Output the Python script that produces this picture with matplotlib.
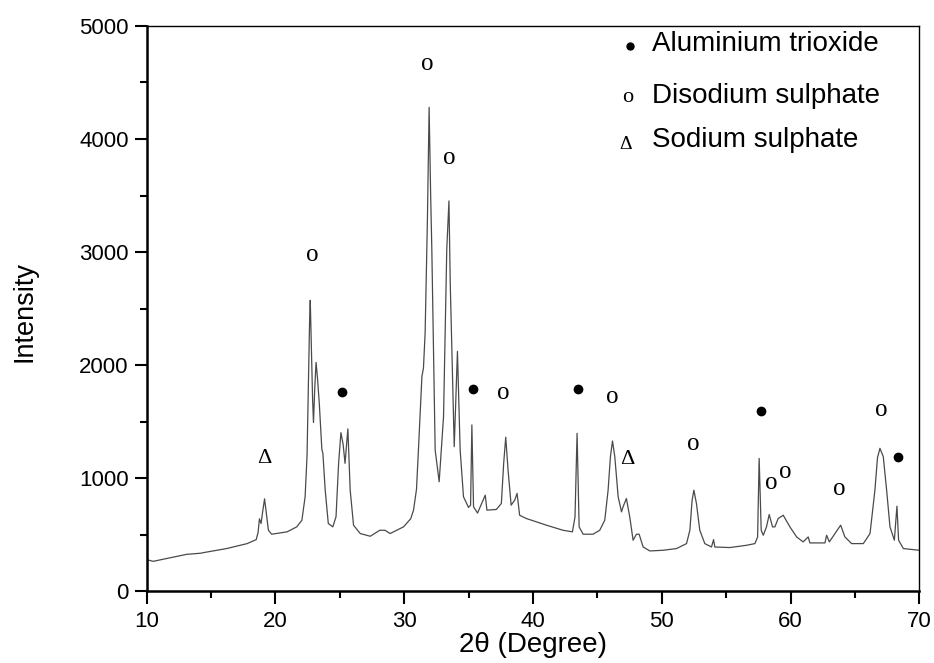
import numpy as np
import matplotlib
matplotlib.use('Agg')
import matplotlib.pyplot as plt
from matplotlib.ticker import MultipleLocator

plt.rcParams['font.family'] = ['Liberation Sans', 'DejaVu Sans']

# XRD pattern (2theta in degrees, intensity in counts)
two_theta = [10.0, 10.5, 11.5, 13.1, 14.2, 14.4, 16.2, 17.8, 18.5, 18.65, 18.75, 18.88, 19.0, 19.15,
             19.3, 19.45, 19.7, 20.9, 21.65, 22.05, 22.3, 22.45, 22.55, 22.65, 22.7, 22.78, 22.88, 22.95,
             23.05, 23.15, 23.25, 23.4, 23.6, 23.68,
             23.86, 24.1, 24.45, 24.7, 24.9, 25.08, 25.25, 25.4, 25.62, 25.8, 26.06, 26.58, 27.36, 28.1,
             28.5, 28.9, 29.94, 30.5, 30.72, 30.95, 31.1, 31.37, 31.49, 31.62, 31.8, 31.93, 32.05, 32.14,
             32.4, 32.71, 33.05, 33.3, 33.47, 33.57, 33.88, 34.13, 34.34, 34.6, 34.99, 35.15, 35.25, 35.38,
             35.69, 36.29, 36.42, 37.15, 37.54, 37.72, 37.88, 38.06, 38.3, 38.58, 38.76, 38.96, 39.48,
             41.04, 42.33, 43.06, 43.26, 43.42, 43.58, 43.89, 44.66, 45.18, 45.57, 45.83, 46.01, 46.17,
             46.35, 46.61, 46.87, 46.99, 47.25, 47.51, 47.77, 48.03, 48.24, 48.55, 49.07, 50.1, 51.14,
             51.92, 52.18, 52.35, 52.49, 52.69, 52.95, 53.34, 53.86, 54.02, 54.12, 55.28, 56.58, 57.23, 57.44,
             57.56, 57.72, 57.88, 58.13, 58.34, 58.6, 58.78, 59.04, 59.43, 59.95, 60.47, 60.98, 61.37,
             61.5, 62.67, 62.8, 63.01, 63.45, 63.89, 64.22, 64.74, 65.65, 66.17, 66.55, 66.75, 66.94, 67.2,
             67.46, 67.72, 68.06, 68.26, 68.39, 68.76, 70.0]
intensity = [278, 263, 287, 325, 335, 340, 376, 420, 455, 520, 639, 598, 700, 816,
             680, 538, 503, 524, 568, 627, 834, 1200, 1800, 2400, 2573, 2200, 1700, 1491,
             1800, 2023, 1900, 1662, 1254, 1219,
             893, 598, 568, 657, 1130, 1402, 1300, 1130, 1435, 893, 583, 509, 485, 538,
             538, 509, 568, 640, 716, 900, 1248, 1899, 1973, 2284, 3300, 4280, 3500, 3023,
             1248, 967, 1544, 3023, 3452, 2728, 1278, 2121, 1248, 834, 740, 760, 1470, 745,
             690, 849, 716, 722, 775, 1130, 1361, 1071, 760, 805, 864, 671, 642,
             583, 538, 524, 657, 1396, 568, 503, 503, 538, 627, 893, 1189, 1328,
             1189, 834, 701, 745, 819, 657, 450, 503, 503, 390, 355, 361, 376,
             420, 538, 800, 893, 775, 538, 420, 390, 455, 390, 385, 405, 420, 479,
             1174, 538, 494, 568, 677, 568, 568, 642, 671, 568, 479, 435, 479,
             426, 426, 494, 435, 509, 583, 479, 420, 420, 509, 893, 1180, 1263, 1189,
             893, 568, 450, 751, 450, 376, 361]

# phase markers (position of the symbol above the peak)
al2o3_x = [25.16, 35.34, 43.5, 57.69, 68.32]
al2o3_y = [1760, 1787, 1787, 1591, 1189]
na2so4_o_x = [22.88, 31.75, 33.51, 37.72, 46.17, 52.43, 58.52, 59.59, 63.78, 67.02]
na2so4_o_y = [2970, 4660, 3828, 1751, 1716, 1302, 952, 1056, 899, 1603]
na2so4_d_x = [19.15, 47.3]
na2so4_d_y = [1174, 1165]

legend_labels = ['Aluminium trioxide', 'Disodium sulphate', 'Sodium sulphate']

fig = plt.figure(figsize=(9.34, 6.63), dpi=100)
ax = fig.add_axes([0.1571, 0.1085, 0.8272, 0.8523])

ax.plot(two_theta, intensity, color='#4a4a4a', lw=0.9)

# symbols
ax.plot(al2o3_x, al2o3_y, 'o', color='black', ms=6)
for x, y in zip(na2so4_o_x, na2so4_o_y):
    ax.text(x, y, 'o', family='Liberation Serif', fontsize=18, ha='center', va='center')
for x, y in zip(na2so4_d_x, na2so4_d_y):
    ax.text(x, y, '\u0394', family='Liberation Serif', fontsize=16, ha='center', va='center')

# hand made legend in the upper right
ax.plot([47.55], [4827], 'o', color='black', ms=5)
ax.text(47.34, 4365, 'o', family='Liberation Serif', fontsize=16, ha='center', va='center')
ax.text(47.16, 3955, '\u0394', family='Liberation Serif', fontsize=14, ha='center', va='center')
for lab, y in zip(legend_labels, [4838, 4383, 3990]):
    ax.text(49.24, y, lab, fontsize=20, ha='left', va='center')

ax.set_xlim(10, 70)
ax.set_ylim(0, 5000)
ax.xaxis.set_major_locator(MultipleLocator(10))
ax.xaxis.set_minor_locator(MultipleLocator(5))
ax.yaxis.set_major_locator(MultipleLocator(1000))
ax.yaxis.set_minor_locator(MultipleLocator(500))
ax.tick_params(which='major', direction='out', length=9, width=1.5, labelsize=16, pad=4)
ax.tick_params(axis='x', which='major', pad=5)
ax.tick_params(which='minor', direction='out', length=5, width=1.5)
for s in ax.spines.values():
    s.set_linewidth(1.0)
ax.spines['left'].set_linewidth(1.8)
ax.spines['bottom'].set_linewidth(1.8)

ax.set_xlabel('2\u03b8 (Degree)', fontsize=20, labelpad=0)
fig.text(24 / 934, 1 - 312 / 663, 'Intensity', rotation=90, fontsize=19.5, ha='center', va='center')

fig.savefig('out.png', dpi=100)
